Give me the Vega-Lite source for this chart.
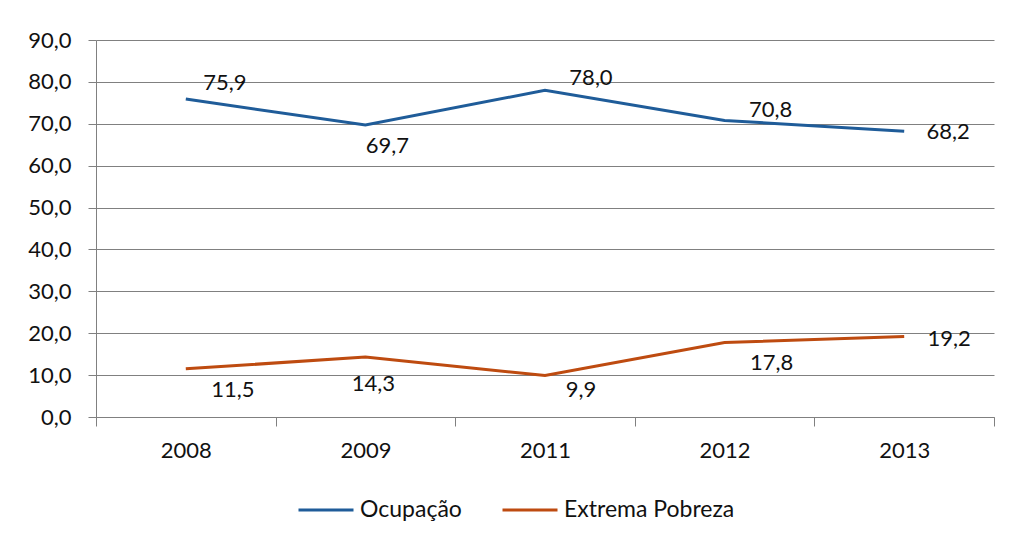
{
  "$schema": "https://vega.github.io/schema/vega-lite/v6.json",
  "width": 898,
  "height": 377,
  "autosize": {"type": "none"},
  "padding": {"left": 96, "top": 40, "right": 16, "bottom": 126},
  "background": "white",
  "config": {
    "locale": {"number": {"decimal": ",", "thousands": ".", "grouping": [3], "currency": ["R$", ""]}},
    "font": "Lato",
    "view": {"stroke": null},
    "text": {"font": "Lato", "fontSize": 22, "fill": "#111111", "align": "center", "baseline": "middle"}
  },
  "data": {
    "values": [
      {"ano": "2008", "serie": "Ocupação", "valor": 75.9},
      {"ano": "2009", "serie": "Ocupação", "valor": 69.7},
      {"ano": "2011", "serie": "Ocupação", "valor": 78.0},
      {"ano": "2012", "serie": "Ocupação", "valor": 70.8},
      {"ano": "2013", "serie": "Ocupação", "valor": 68.2},
      {"ano": "2008", "serie": "Extrema Pobreza", "valor": 11.5},
      {"ano": "2009", "serie": "Extrema Pobreza", "valor": 14.3},
      {"ano": "2011", "serie": "Extrema Pobreza", "valor": 9.9},
      {"ano": "2012", "serie": "Extrema Pobreza", "valor": 17.8},
      {"ano": "2013", "serie": "Extrema Pobreza", "valor": 19.2}
    ]
  },
  "encoding": {
    "x": {
      "field": "ano", "type": "ordinal", "bandPosition": 0.5,
      "scale": {"type": "band", "paddingInner": 0, "paddingOuter": 0},
      "axis": {
        "title": null, "labelAngle": 0, "grid": false, "tickBand": "extent",
        "domainColor": "#808080", "tickColor": "#808080", "tickSize": 9,
        "labelFont": "Lato", "labelFontSize": 22, "labelColor": "#111111", "labelPadding": 14
      }
    },
    "y": {
      "field": "valor", "type": "quantitative",
      "scale": {"domain": [0, 90], "nice": false, "zero": true},
      "axis": {
        "title": null, "values": [0, 10, 20, 30, 40, 50, 60, 70, 80, 90], "format": ".1f",
        "grid": true, "gridColor": "#808080", "gridOpacity": 1, "gridWidth": 1,
        "domainColor": "#808080", "tickColor": "#808080", "tickSize": 8,
        "labelFont": "Lato", "labelFontSize": 22, "labelColor": "#111111", "labelPadding": 17
      }
    }
  },
  "layer": [
    {
      "mark": {"type": "line", "strokeWidth": 3},
      "encoding": {
        "color": {
          "field": "serie", "type": "nominal",
          "scale": {"domain": ["Ocupação", "Extrema Pobreza"], "range": ["#1F5C99", "#BE4B10"]},
          "legend": {
            "title": null, "orient": "none", "legendX": 201, "legendY": 441, "direction": "horizontal",
            "symbolType": "stroke", "symbolSize": 3025, "symbolStrokeWidth": 3,
            "labelFont": "Lato", "labelFontSize": 23, "labelColor": "#111111", "labelLimit": 400,
            "labelOffset": 5, "columnPadding": 34
          }
        }
      }
    },
    {"transform": [{"filter": "datum.serie === 'Ocupação' && datum.ano === '2008'"}], "mark": {"type": "text", "dx": 39, "dy": -16}, "encoding": {"text": {"field": "valor", "type": "quantitative", "format": ".1f"}}},
    {"transform": [{"filter": "datum.serie === 'Ocupação' && datum.ano === '2009'"}], "mark": {"type": "text", "dx": 22, "dy": 21}, "encoding": {"text": {"field": "valor", "type": "quantitative", "format": ".1f"}}},
    {"transform": [{"filter": "datum.serie === 'Ocupação' && datum.ano === '2011'"}], "mark": {"type": "text", "dx": 46, "dy": -12}, "encoding": {"text": {"field": "valor", "type": "quantitative", "format": ".1f"}}},
    {"transform": [{"filter": "datum.serie === 'Ocupação' && datum.ano === '2012'"}], "mark": {"type": "text", "dx": 46, "dy": -10}, "encoding": {"text": {"field": "valor", "type": "quantitative", "format": ".1f"}}},
    {"transform": [{"filter": "datum.serie === 'Ocupação' && datum.ano === '2013'"}], "mark": {"type": "text", "dx": 44, "dy": 1}, "encoding": {"text": {"field": "valor", "type": "quantitative", "format": ".1f"}}},
    {"transform": [{"filter": "datum.serie === 'Extrema Pobreza' && datum.ano === '2008'"}], "mark": {"type": "text", "dx": 47, "dy": 21}, "encoding": {"text": {"field": "valor", "type": "quantitative", "format": ".1f"}}},
    {"transform": [{"filter": "datum.serie === 'Extrema Pobreza' && datum.ano === '2009'"}], "mark": {"type": "text", "dx": 8, "dy": 27}, "encoding": {"text": {"field": "valor", "type": "quantitative", "format": ".1f"}}},
    {"transform": [{"filter": "datum.serie === 'Extrema Pobreza' && datum.ano === '2011'"}], "mark": {"type": "text", "dx": 36, "dy": 14}, "encoding": {"text": {"field": "valor", "type": "quantitative", "format": ".1f"}}},
    {"transform": [{"filter": "datum.serie === 'Extrema Pobreza' && datum.ano === '2012'"}], "mark": {"type": "text", "dx": 47, "dy": 21}, "encoding": {"text": {"field": "valor", "type": "quantitative", "format": ".1f"}}},
    {"transform": [{"filter": "datum.serie === 'Extrema Pobreza' && datum.ano === '2013'"}], "mark": {"type": "text", "dx": 45, "dy": 2}, "encoding": {"text": {"field": "valor", "type": "quantitative", "format": ".1f"}}}
  ]
}
